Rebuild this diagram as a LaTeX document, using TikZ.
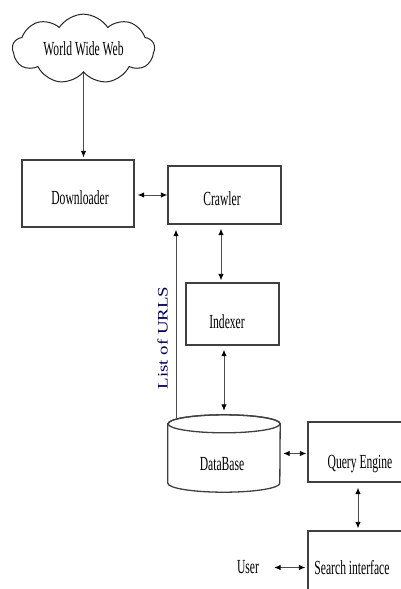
\documentclass[tikz,border=0pt]{standalone}
\usepackage{fontspec}
\setmainfont{Liberation Serif}
\usepackage{graphicx}
\usetikzlibrary{shapes.symbols,arrows.meta,calc}
\newcommand\cnd[1]{\scalebox{0.58}[1]{#1}}
\begin{document}
\begin{tikzpicture}[x=1pt,y=-1pt,
  box/.style={draw=black!75,line width=1.4pt,fill=white,inner sep=0pt},
  lbl/.style={inner sep=0pt,font=\fontsize{20}{21}\selectfont},
  conn/.style={draw=black!70,line width=0.9pt,-{Latex[length=6.5pt,width=5.5pt,color=black]}},
  bidir/.style={draw=black!70,line width=0.9pt,{Latex[length=6.5pt,width=5.5pt,color=black]}-{Latex[length=6.5pt,width=5.5pt,color=black]}},
  webcloud/.style={cloud,draw=black!85,line width=1pt,cloud puffs=9,cloud puff arc=115,aspect=2.2,inner sep=0pt,minimum width=142,minimum height=68}]
\useasboundingbox (0,0) rectangle (401,589);
\clip (0,0) rectangle (401,589);
\fill[white] (0,0) rectangle (401,589);

% cloud
\node[webcloud,lbl] (web) at (83.5,49) {\cnd{World Wide Web}};

% boxes
\node[box,minimum width=112,minimum height=67] (down) at (78,193.5) {};
\node[lbl] (downtxt) at (80,197.5) {\cnd{Downloader}};
\node[box,minimum width=113,minimum height=58] (crawl) at (224.5,195) {};
\node[lbl] (crawltxt) at (222,198.5) {\cnd{Crawler}};
\node[box,minimum width=93,minimum height=62] (idx) at (232.5,314) {};
\node[lbl] (idxtxt) at (227,321.5) {\cnd{Indexer}};

% database cylinder
\node[inner sep=0pt,minimum width=112,minimum height=77] (db) at (224,453.5) {};
\draw[draw=black!75,line width=1.3pt,fill=white]
  ([yshift=-9pt]db.north west) -- ([yshift=9pt]db.south west)
  arc[start angle=180,end angle=360,x radius=56pt,y radius=9pt]
  -- ([yshift=-9pt]db.north east)
  arc[start angle=0,end angle=180,x radius=56pt,y radius=9pt] -- cycle;
\draw[draw=black!75,line width=1.3pt]
  ([yshift=-9pt]db.north) ellipse[x radius=56pt,y radius=9pt];
\node[lbl] (dbtxt) at (222,464) {\cnd{DataBase}};

\node[box,minimum width=104,minimum height=60] (query) at (360,452) {};
\node[lbl] (querytxt) at (360,464) {\cnd{Query Engine}};
\node[box,minimum width=112,minimum height=79] (search) at (364,570.5) {};
\node[lbl] (searchtxt) at (352,567.5) {\cnd{Search interface}};
\node[lbl] (user) at (248,567.5) {\cnd{User}};

% URL list label
\node[inner sep=0pt,rotate=90,text=blue!35!black,font=\fontsize{14.5}{15}\selectfont] (urls) at (162.5,338) {\scalebox{1.3}[1]{List of URLS}};

% connectors
\draw[conn,shorten >=2pt] (web.south) -- (web.south |- down.north);
\draw[bidir,shorten <=3pt] (down.east |- crawl.west) -- (crawl.west);
\draw[bidir,shorten <=4pt,shorten >=2pt] ([xshift=-3.5pt]crawl.south) -- ([xshift=-3.5pt]crawl.south |- idx.north);
\draw[bidir,shorten <=4pt,shorten >=4pt] (idx.south -| db.north) -- (db.north);
\draw[conn,shorten >=5pt] ([xshift=-48pt,yshift=-4.5pt]db.north) -- ([xshift=-48pt]db.north |- crawl.south);
\draw[bidir,shorten <=3pt,shorten >=1pt] (db.east) -- (query.west |- db.east);
\draw[bidir,shorten <=5pt,shorten >=2pt] ([xshift=-2pt]query.south) -- ([xshift=-2pt]query.south |- search.north);
\draw[bidir,shorten <=15pt,shorten >=2pt] (user.east) -- (search.west |- user.east);
\end{tikzpicture}
\end{document}
